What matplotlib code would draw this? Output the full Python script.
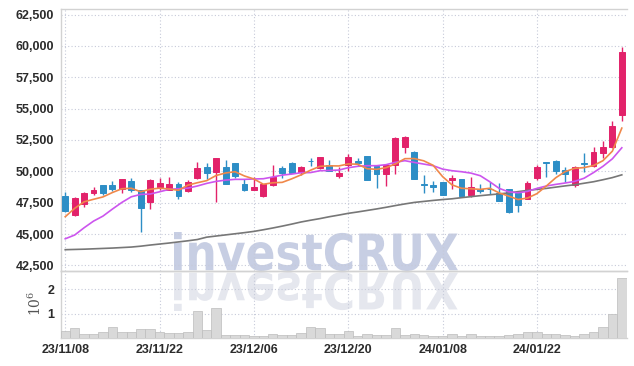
import numpy as np
import pandas as pd
import matplotlib
matplotlib.use("Agg")
import matplotlib.pyplot as plt
from matplotlib.textpath import TextPath
from matplotlib.patches import PathPatch
from matplotlib.font_manager import FontProperties
from matplotlib.transforms import Affine2D, IdentityTransform
from matplotlib.ticker import FuncFormatter


# -------------------------------------------------
# data
# -------------------------------------------------

dates = [
    "23/11/08", "23/11/09", "23/11/10", "23/11/13", "23/11/14", "23/11/15", "23/11/16", "23/11/17",
    "23/11/20", "23/11/21", "23/11/22", "23/11/23", "23/11/24", "23/11/27", "23/11/28", "23/11/29",
    "23/11/30", "23/12/01", "23/12/04", "23/12/05", "23/12/06", "23/12/07", "23/12/08", "23/12/11",
    "23/12/12", "23/12/13", "23/12/14", "23/12/15", "23/12/18", "23/12/19", "23/12/20", "23/12/21",
    "23/12/22", "23/12/26", "23/12/27", "23/12/28", "24/01/02", "24/01/03", "24/01/04", "24/01/05",
    "24/01/08", "24/01/09", "24/01/10", "24/01/11", "24/01/12", "24/01/15", "24/01/16", "24/01/17",
    "24/01/18", "24/01/19", "24/01/22", "24/01/23", "24/01/24", "24/01/25", "24/01/26", "24/01/29",
    "24/01/30", "24/01/31", "24/02/01", "24/02/02",
]

opens = [
    48030, 46540, 47370, 48290, 48900, 48900, 48610, 49200, 48510, 47550,
    48770, 48530, 48960, 48430, 49490, 50340, 49970, 50340, 50660, 48990,
    48530, 48030, 48910, 50290, 50690, 49940, 50850, 50290, 50500, 49620,
    50480, 50820, 51220, 50420, 49810, 50480, 51960, 51540, 48960, 48930,
    49150, 49300, 49390, 48130, 48610, 48620, 48290, 48560, 48290, 47810,
    49490, 50740, 50820, 50100, 48930, 50660, 50420, 51480, 51960, 54520,
]
highs = [
    48330, 47950, 48330, 48720, 48950, 49200, 49400, 49440, 48550, 49380,
    49490, 49520, 49170, 49280, 50720, 50660, 51100, 50880, 50690, 49410,
    49520, 48990, 50500, 50400, 50750, 50420, 51040, 51180, 50880, 50320,
    51380, 51060, 51250, 50500, 50550, 52700, 52840, 51650, 49680, 49230,
    49180, 49700, 49420, 49570, 48990, 49120, 49090, 48600, 48350, 49230,
    50500, 50760, 50880, 50340, 50450, 51480, 51960, 52420, 54010, 59900,
]
lows = [
    46780, 46450, 47130, 48110, 48100, 48450, 48250, 48380, 45130, 47000,
    48550, 48480, 47770, 48320, 49360, 49390, 47530, 48980, 49500, 48430,
    48480, 47960, 48850, 49500, 49880, 49680, 50420, 50200, 49990, 49490,
    50050, 50400, 49300, 48640, 48850, 49810, 51440, 49350, 48290, 48350,
    48100, 48610, 48000, 47950, 48240, 48190, 47600, 46700, 46730, 47780,
    49300, 49550, 49760, 49120, 48740, 49920, 50380, 51040, 51900, 54000,
]
closes = [
    46860, 47870, 48270, 48510, 48300, 48590, 49360, 48510, 47070, 49300,
    49070, 48990, 48030, 49120, 50260, 49890, 51060, 49010, 49650, 48530,
    48720, 48960, 49570, 49840, 49890, 50340, 50800, 51140, 50050, 49840,
    51120, 50690, 49330, 49810, 50500, 52630, 52760, 49400, 48900, 48720,
    48130, 49470, 48030, 48720, 48450, 48560, 47650, 46750, 47330, 49040,
    50340, 50700, 50020, 49810, 50340, 50620, 51520, 51940, 53620, 59520,
]

# moving averages as drawn (5 / 20 / 60 day)
ma5 = [
    46380, 47050, 47570, 47770, 47960, 48310, 48610, 48650, 48370, 48570,
    48660, 48590, 48490, 48900, 49090, 49260, 49670, 49870, 49970, 49630,
    49390, 48970, 49090, 49120, 49400, 49720, 50090, 50400, 50440, 50430,
    50590, 50570, 50210, 50160, 50290, 50590, 51010, 51020, 50840, 50480,
    49580, 48920, 48650, 48610, 48560, 48650, 48280, 48030, 47750, 47870,
    48220, 48830, 49490, 49980, 50240, 50300, 50460, 50850, 51610, 53450,
]
ma20 = [
    44620, 44920, 45500, 46030, 46430, 46990, 47520, 47970, 48160, 48190,
    48370, 48560, 48610, 48660, 48830, 49040, 49200, 49300, 49360, 49360,
    49390, 49410, 49550, 49700, 49780, 49890, 49900, 50050, 50070, 50100,
    50290, 50400, 50450, 50450, 50530, 50720, 50850, 50710, 50580, 50450,
    50180, 50050, 49970, 49860, 49650, 49170, 48640, 48370, 48290, 48400,
    48640, 48830, 48960, 49070, 49200, 49450, 49900, 50400, 51000, 51880,
]
ma60 = [
    43750, 43770, 43790, 43820, 43850, 43880, 43920, 43960, 44030, 44120,
    44200, 44280, 44370, 44460, 44560, 44750, 44840, 44930, 45020, 45110,
    45210, 45340, 45480, 45630, 45790, 45960, 46100, 46230, 46380, 46510,
    46650, 46760, 46880, 47000, 47130, 47270, 47400, 47520, 47600, 47680,
    47750, 47810, 47900, 47980, 48060, 48130, 48200, 48280, 48380, 48480,
    48560, 48640, 48740, 48840, 48930, 49050, 49170, 49330, 49500, 49720,
]

# volume in millions of shares
volume_m = [
    0.28, 0.39, 0.18, 0.18, 0.24, 0.47, 0.24, 0.24, 0.36, 0.36,
    0.24, 0.19, 0.19, 0.24, 1.10, 0.31, 1.22, 0.14, 0.14, 0.14,
    0.10, 0.08, 0.18, 0.14, 0.14, 0.20, 0.43, 0.39, 0.15, 0.15,
    0.27, 0.08, 0.18, 0.14, 0.14, 0.39, 0.14, 0.18, 0.14, 0.08,
    0.08, 0.18, 0.08, 0.18, 0.08, 0.08, 0.08, 0.14, 0.18, 0.24,
    0.24, 0.18, 0.18, 0.14, 0.10, 0.18, 0.24, 0.43, 0.97, 2.47,
]

price_ticks = [42500, 45000, 47500, 50000, 52500, 55000, 57500, 60000, 62500]
volume_ticks = [1, 2]
date_tick_step = 10


# -------------------------------------------------
# styling
# -------------------------------------------------

UP = "#e2226a"
DOWN = "#2d8ec6"
GRID = "#c6cad9"
SPINE = "#d2d2d2"
LABEL = "#2b2b2b"
label_font = dict(family=["Liberation Sans", "DejaVu Sans"], size=9, weight="bold")

df = pd.DataFrame({
    "date": dates, "open": opens, "high": highs, "low": lows, "close": closes,
    "ma5": ma5, "ma20": ma20, "ma60": ma60, "volume": volume_m,
})
x = np.arange(len(df))

W, H = 634, 366
fig = plt.figure(figsize=(W / 100, H / 100), dpi=100)
fig.patch.set_facecolor("white")

left, right = 61, 627
ax = fig.add_axes([left / W, 1 - 271 / H, (right - left) / W, 262 / H])
axv = fig.add_axes([left / W, 1 - 338 / H, (right - left) / W, 67 / H], sharex=ax)

for a in (ax, axv):
    a.set_facecolor("none")
    a.spines["right"].set_visible(False)
    for side in ("left", "top", "bottom"):
        a.spines[side].set_color(SPINE)
        a.spines[side].set_linewidth(1)
    a.grid(True, color=GRID, linestyle=(0, (1, 2)), linewidth=0.8)
    a.set_axisbelow(True)
    a.tick_params(length=0, colors=LABEL)

# -------------------------------------------------
# candles
# -------------------------------------------------

up = df["close"] >= df["open"]
colors = np.where(up, UP, DOWN)

ax.vlines(x, df["low"], df["high"], colors=colors, linewidth=1, zorder=3)
body_lo = np.minimum(df["open"], df["close"])
body_h = (df["close"] - df["open"]).abs()
ax.bar(x, body_h, bottom=body_lo, width=0.62, color=colors,
       edgecolor=colors, linewidth=0.7, zorder=4)

ax.plot(x, df["ma60"], color="#777777", linewidth=1.2, zorder=5)
ax.plot(x, df["ma20"], color="#cc55ee", linewidth=1.2, zorder=5)
ax.plot(x, df["ma5"], color="#f0884a", linewidth=1.2, zorder=5)

ax.set_ylim(42050, 62950)
ax.set_yticks(price_ticks)
ax.yaxis.set_major_formatter(FuncFormatter(lambda v, p: f"{v:,.0f}"))
ax.tick_params(axis="y", pad=5)
plt.setp(ax.get_xticklabels(), visible=False)
for t in ax.get_yticklabels():
    t.set(**label_font)

# -------------------------------------------------
# volume
# -------------------------------------------------

axv.bar(x, df["volume"], width=1.0, color="#d9d9d9", edgecolor="#bcbcbc",
        linewidth=0.5, zorder=3)
axv.set_ylim(0, 2.74)
axv.set_yticks(volume_ticks)
axv.tick_params(axis="y", pad=5)
axv.tick_params(axis="x", pad=4)
axv.set_xticks(x[::date_tick_step])
axv.set_xticklabels(df["date"][::date_tick_step])
axv.set_xlim(-0.45, len(df) - 0.45)
for t in axv.get_yticklabels() + axv.get_xticklabels():
    t.set(**label_font)

fig.text(35 / W, 1 - 303 / H, r"$10^6$", rotation=90, ha="center", va="center",
         fontsize=10, color="#555555", math_fontfamily="dejavuserif")

# -------------------------------------------------
# watermark (text + mirrored reflection)
# -------------------------------------------------

tp = TextPath((0, 0), "investCRUX", size=50,
              prop=FontProperties(family="DejaVu Sans", weight="bold"))
ext = tp.get_extents()
wm_x0, wm_x1 = 174, 458
wm_top, wm_base = 232, 271
sx = (wm_x1 - wm_x0) / ext.width
sy = (wm_base - wm_top) / ext.height

main_tr = Affine2D().translate(-ext.x0, -ext.y0).scale(sx, sy).translate(wm_x0, H - wm_base)
refl_tr = Affine2D().translate(-ext.x0, -ext.y0).scale(sx, -sy).translate(wm_x0, H - wm_base - 1)

fig.add_artist(PathPatch(main_tr.transform_path(tp), facecolor="#c7cee3",
                         edgecolor="none", transform=IdentityTransform(), zorder=-1))
fig.add_artist(PathPatch(refl_tr.transform_path(tp), facecolor="#e5e7ee",
                         edgecolor="none", transform=IdentityTransform(), zorder=-1))

fig.savefig("out.png", dpi=100, facecolor="white")
